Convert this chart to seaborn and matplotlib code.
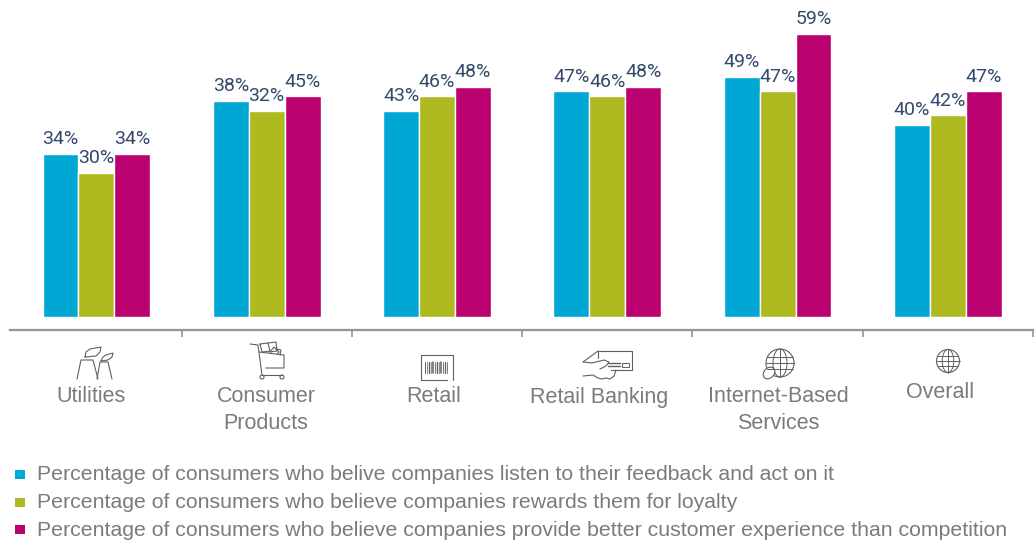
import pandas as pd
import numpy as np
import matplotlib
matplotlib.use('Agg')
import matplotlib.pyplot as plt
import matplotlib.patches as mpatches
import seaborn as sns

categories = ['Utilities', 'Consumer\nProducts', 'Retail', 'Retail Banking', 'Internet-Based\nServices', 'Overall']
series_names = [
    'Percentage of consumers who belive companies listen to their feedback and act on it',
    'Percentage of consumers who believe companies rewards them for loyalty',
    'Percentage of consumers who believe companies provide better customer experience than competition',
]
# bar heights as drawn in the picture
listen_bars = [34, 45, 43, 47, 50, 40]
rewards_bars = [30, 43, 46, 46, 47, 42]
better_bars = [34, 46, 48, 48, 59, 47]
# printed labels (the consumer products bars do not match them in the source)
listen_labels = [34, 38, 43, 47, 49, 40]
rewards_labels = [30, 32, 46, 46, 47, 42]
better_labels = [34, 45, 48, 48, 59, 47]
colors = ['#00a7d4', '#afba20', '#bb0070']

W, H = 1035, 545
GREY = '#7b7b7d'
NAVY = '#34496b'
ICON = '#606062'

sns.set_theme(style='white')
plt.rcParams['font.family'] = ['Liberation Sans', 'DejaVu Sans']

rows = []
for name, vals in zip(series_names, [listen_bars, rewards_bars, better_bars]):
    for cat, v in zip(categories, vals):
        rows.append({'category': cat, 'series': name, 'value': v})
df = pd.DataFrame(rows)

fig = plt.figure(figsize=(W / 100, H / 100), dpi=100)
ax = fig.add_axes([10 / W, (H - 330) / H, 1023 / W, 320 / H])
sns.barplot(data=df, x='category', y='value', hue='series', palette=colors, width=0.632,
            gap=0, saturation=1, legend=False, ax=ax)
ax.set_xlim(-0.5076, 5.496)
ax.set_ylim(-13 / 4.8, 307 / 4.8)
ax.set_xlabel('')
ax.set_ylabel('')
ax.set_yticks([])
for s in ['top', 'left', 'right']:
    ax.spines[s].set_visible(False)
ax.spines['bottom'].set_color('#939598')
ax.spines['bottom'].set_linewidth(1.6)
ax.set_xticks([i + 0.5 for i in range(6)])
ax.set_xticklabels([])
ax.tick_params(axis='x', direction='out', length=5, width=1.2, color='#939598', bottom=True)

# value labels
for cont, labs in zip(ax.containers, [listen_labels, rewards_labels, better_labels]):
    ax.bar_label(cont, labels=[f'{v}%' for v in labs], padding=4, fontsize=14, color=NAVY,
                 family=['Roboto', 'Liberation Sans'])

# overlay in pixel coordinates for text placement and icons
ov = fig.add_axes([0, 0, 1, 1], facecolor='none')
ov.set_xlim(0, W)
ov.set_ylim(H, 0)
ov.axis('off')

label_pos = [(91, 397), (266, 410), (434, 397), (599, 397), (778, 410), (940, 392)]
for cat, (x, y) in zip(categories, label_pos):
    ov.text(x, y, cat, ha='center', va='center', fontsize=15.5, color=GREY, linespacing=1.42)

# legend
for name, col, top, y in zip(series_names, colors, [470, 498, 525], [474, 503, 530]):
    ov.add_patch(mpatches.Rectangle((15, top), 10, 9, color=col, lw=0))
    ov.text(37, y, name, ha='left', va='center', fontsize=15.35, color=GREY)


def stroke(xs, ys, lw=0.8, color=ICON):
    ov.plot(xs, ys, color=color, lw=lw, solid_capstyle='round', solid_joinstyle='round')


def globe(cx, cy, r):
    ov.add_patch(mpatches.Circle((cx, cy), r, fill=False, ec=ICON, lw=0.8))
    ov.add_patch(mpatches.Ellipse((cx, cy), r, 2 * r, fill=False, ec=ICON, lw=0.7))
    stroke([cx, cx], [cy - r, cy + r], 0.7)
    for dy in [-0.45, 0, 0.45]:
        half = r * np.sqrt(1 - dy ** 2)
        stroke([cx - half, cx + half], [cy + dy * r, cy + dy * r], 0.7)


# utilities icon
stroke([77, 81, 93, 98], [379, 360, 360, 379])
stroke([97, 100, 108, 112], [379, 362, 362, 379])
stroke([85, 86, 90, 101, 100, 96, 85], [357, 352, 349, 347, 352, 356, 357])
stroke([101, 103, 106, 113, 112, 108, 101], [361, 357, 355, 353, 357, 360, 361])
# cart icon
stroke([250, 258, 262], [344, 345, 375])
stroke([262, 282], [375, 375])
stroke([259, 284, 284, 266], [352, 355, 368, 368])
ov.add_patch(mpatches.Circle((262, 377), 2, fill=False, ec=ICON, lw=0.8))
ov.add_patch(mpatches.Circle((282, 377), 2, fill=False, ec=ICON, lw=0.8))
stroke([260, 268, 270, 262, 260], [344, 343, 351, 352, 344])
stroke([268, 276, 277, 270], [343, 342, 351, 352])
stroke([270, 274, 279, 277], [352, 347, 352, 354])
stroke([276, 281, 280], [349, 350, 355])
# barcode icon
stroke([421, 421, 453, 453], [380, 355, 355, 380])
stroke([421, 447], [379.5, 379.5])
for bx, blw in zip([425, 427, 429, 431, 433, 435, 437, 439, 441, 443, 445, 447],
                   [0.7, 0.5, 1.0, 0.5, 1.1, 0.6, 1.0, 0.5, 1.1, 0.6, 0.9, 0.6]):
    stroke([bx, bx], [362, 373], blw)
# card and hand icon
stroke([598, 632, 632, 611], [351, 351, 370, 370])
stroke([598, 583], [351, 362])
stroke([598, 598], [351, 358])
stroke([608, 620], [363, 363], 1.0)
stroke([608, 620], [366, 366], 1.0)
ov.add_patch(mpatches.Rectangle((622, 363), 7, 4, fill=False, ec=ICON, lw=0.7))
stroke([583, 592, 604, 609, 606, 600], [362, 363, 360, 362, 366, 369])
stroke([583, 593, 598, 602, 606, 610, 614, 616], [376, 375, 378, 379, 378, 379, 376, 370])
# globes
globe(780, 363, 14)
ov.add_patch(mpatches.Ellipse((769, 373), 10, 13, angle=45, fc='white', ec=ICON, lw=0.8))
globe(948, 361, 11.5)

fig.savefig('out.png', dpi=100)
